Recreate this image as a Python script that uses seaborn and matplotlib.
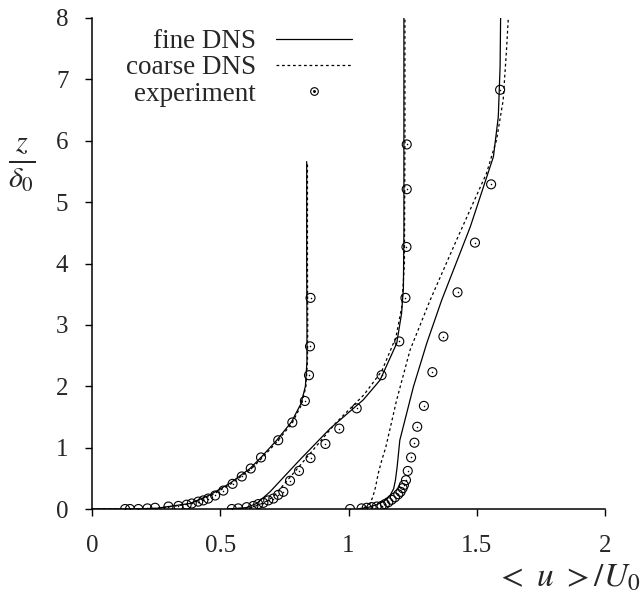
import numpy as np
import pandas as pd
import matplotlib
matplotlib.use("Agg")
import matplotlib.pyplot as plt
import seaborn as sns
from matplotlib.lines import Line2D

# --- data (u/U0, z/delta0), three stations ---
fine1_u = [0.0, 0.15, 0.25, 0.298, 0.382, 0.46, 0.538, 0.616, 0.661, 0.72, 0.778, 0.815, 0.832, 0.838, 0.838, 0.837, 0.837]
fine1_z = [0.0, 0.0, 0.01, 0.04, 0.09, 0.23, 0.42, 0.66, 0.85, 1.12, 1.42, 1.72, 2.0, 2.4, 3.0, 4.0, 5.66]
coarse1_u = [0.0, 0.15, 0.25, 0.3, 0.385, 0.465, 0.542, 0.62, 0.665, 0.722, 0.78, 0.817, 0.834, 0.84, 0.841, 0.84, 0.84]
coarse1_z = [0.0, 0.0, 0.01, 0.035, 0.085, 0.22, 0.41, 0.65, 0.84, 1.1, 1.4, 1.7, 2.0, 2.4, 3.0, 4.0, 5.62]

fine2_u = [0.53, 0.6, 0.642, 0.694, 0.81, 0.928, 1.058, 1.123, 1.188, 1.207, 1.214, 1.216, 1.216, 1.216]
fine2_z = [0.0, 0.02, 0.09, 0.28, 0.8, 1.31, 1.78, 2.1, 2.7, 3.19, 3.6, 4.5, 6.0, 8.0]
coarse2_u = [0.53, 0.62, 0.67, 0.707, 0.797, 0.95, 1.06, 1.13, 1.185, 1.208, 1.218, 1.22, 1.22]
coarse2_z = [0.0, 0.02, 0.1, 0.2, 0.64, 1.4, 1.86, 2.25, 2.8, 3.3, 4.0, 6.0, 8.0]

fine3_u = [1.04, 1.08, 1.11, 1.14, 1.162, 1.176, 1.183, 1.19, 1.2, 1.253, 1.305, 1.363, 1.475, 1.565, 1.584, 1.591, 1.593]
fine3_z = [0.0, 0.03, 0.07, 0.13, 0.22, 0.33, 0.47, 0.7, 1.12, 1.99, 2.7, 3.4, 4.6, 5.74, 6.39, 7.21, 8.0]
coarse3_u = [1.04, 1.07, 1.084, 1.095, 1.105, 1.116, 1.13, 1.145, 1.188, 1.24, 1.318, 1.421, 1.538, 1.577, 1.603, 1.616, 1.623]
coarse3_z = [0.0, 0.04, 0.09, 0.2, 0.35, 0.58, 0.8, 1.0, 1.78, 2.59, 3.4, 4.38, 5.47, 6.01, 6.66, 7.48, 8.0]

exp1_u = [0.129, 0.148, 0.181, 0.216, 0.246, 0.298, 0.337, 0.369, 0.389, 0.414, 0.434, 0.453, 0.48, 0.512,
          0.548, 0.584, 0.619, 0.659, 0.726, 0.781, 0.83, 0.846, 0.85, 0.852]
exp1_z = [0.0, 0.0, 0.0, 0.01, 0.02, 0.04, 0.05, 0.07, 0.09, 0.12, 0.14, 0.17, 0.22, 0.3,
          0.41, 0.53, 0.66, 0.84, 1.12, 1.41, 1.76, 2.18, 2.65, 3.44]

exp2_u = [0.545, 0.57, 0.603, 0.629, 0.648, 0.668, 0.687, 0.707, 0.726, 0.746, 0.772, 0.807, 0.852, 0.91,
          0.964, 1.032, 1.129, 1.198, 1.222, 1.226, 1.227, 1.227]
exp2_z = [0.0, 0.01, 0.03, 0.05, 0.08, 0.1, 0.14, 0.17, 0.23, 0.28, 0.46, 0.62, 0.83, 1.06,
          1.31, 1.64, 2.18, 2.73, 3.44, 4.27, 5.21, 5.94]

exp3_u = [1.006, 1.051, 1.071, 1.09, 1.11, 1.129, 1.142, 1.155, 1.168, 1.181, 1.194, 1.203, 1.211, 1.216,
          1.224, 1.231, 1.244, 1.257, 1.268, 1.294, 1.327, 1.37, 1.425, 1.493, 1.556, 1.591]
exp3_z = [0.0, 0.01, 0.02, 0.03, 0.04, 0.05, 0.08, 0.11, 0.15, 0.19, 0.24, 0.28, 0.34, 0.39,
          0.47, 0.62, 0.84, 1.08, 1.34, 1.68, 2.23, 2.81, 3.53, 4.34, 5.29, 6.83]

x_ticks = [0, 0.5, 1, 1.5, 2]
x_ticklabels = ["0", "0.5", "1", "1.5", "2"]
y_ticks = [0, 1, 2, 3, 4, 5, 6, 7, 8]


# stack the stations into long tables
def long_table(pairs):
    frames = []
    for i, (u, z) in enumerate(pairs):
        frames.append(pd.DataFrame({"u": u, "z": z, "station": i}))
    return pd.concat(frames, ignore_index=True)


fine = long_table([(fine1_u, fine1_z), (fine2_u, fine2_z), (fine3_u, fine3_z)])
coarse = long_table([(coarse1_u, coarse1_z), (coarse2_u, coarse2_z), (coarse3_u, coarse3_z)])
exp = long_table([(exp1_u, exp1_z), (exp2_u, exp2_z), (exp3_u, exp3_z)])

sns.set_style("ticks")
plt.rcParams["font.family"] = ["Liberation Serif", "DejaVu Serif"]
plt.rcParams["mathtext.fontset"] = "stix"

fig = plt.figure(figsize=(6.43, 5.96), dpi=100)
ax = fig.add_axes([92 / 643, 87 / 596, 513 / 643, 491 / 596])

dots = (0, (2.2, 2.2))
sns.lineplot(data=fine, x="u", y="z", units="station", estimator=None, sort=False,
             color="black", lw=0.9, ax=ax)
sns.lineplot(data=coarse, x="u", y="z", units="station", estimator=None, sort=False,
             color="black", lw=0.9, linestyle=dots, ax=ax)
sns.scatterplot(data=exp, x="u", y="z", marker="o", s=42, facecolors="none",
                edgecolor="black", linewidth=0.8, ax=ax, zorder=3)
sns.scatterplot(data=exp, x="u", y="z", marker="o", s=1.2, color="black",
                linewidth=0, ax=ax, zorder=4)

ax.set_xlim(0, 2)
ax.set_ylim(0, 8)
ax.set_xticks(x_ticks)
ax.set_xticklabels(x_ticklabels)
ax.set_yticks(y_ticks)
ax.set_xlabel("")
ax.set_ylabel("")
ax.tick_params(axis="both", direction="out", length=5, width=1.0, labelsize=18, color="black")
ax.tick_params(axis="x", pad=14)
ax.tick_params(axis="y", pad=12)
sns.despine(ax=ax)
for side in ["left", "bottom"]:
    ax.spines[side].set_linewidth(1.1)
    ax.spines[side].set_color("black")

# legend: text on the left, sample on the right
h_fine = Line2D([], [], color="black", lw=0.9)
h_coarse = Line2D([], [], color="black", lw=0.9, linestyle=dots)
h_circ = Line2D([], [], color="black", marker="o", ms=5.5, mfc="none", mew=0.8, lw=0)
h_dot = Line2D([], [], color="black", marker="o", ms=1.1, lw=0)
ax.legend([h_fine, h_coarse, (h_circ, h_dot)], ["fine DNS", "coarse DNS", "experiment"],
          loc="upper right", bbox_to_anchor=(352 / 643, 1 - 29 / 596), bbox_transform=fig.transFigure,
          frameon=False, markerfirst=False, fontsize=19.5, handlelength=2.8,
          handletextpad=0.75, labelspacing=0.05, borderpad=0, borderaxespad=0)

fig.text(640 / 643, 1 - 578 / 596, r"$<\ u\ >/U_0$", ha="right", va="center", fontsize=24)
fig.text(22 / 643, 1 - 165 / 596, r"$\frac{z}{\delta_0}$", ha="center", va="center", fontsize=31)

fig.savefig("out.png", dpi=100)
